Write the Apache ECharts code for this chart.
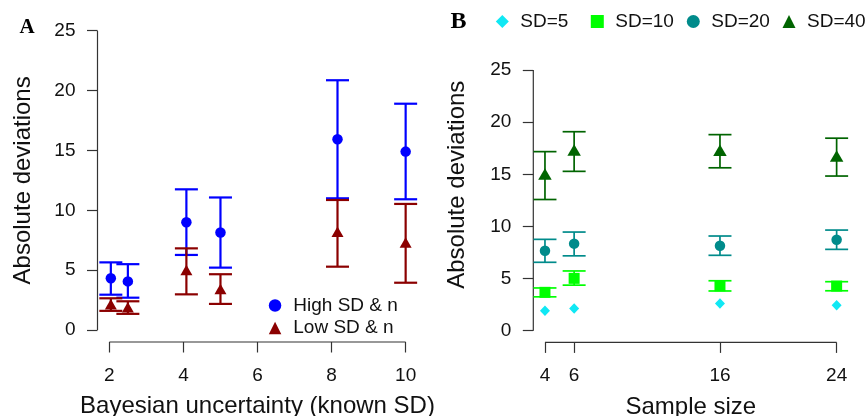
<!DOCTYPE html>
<html>
<head>
<meta charset="utf-8">
<script src="https://cdn.jsdelivr.net/npm/echarts@6/dist/echarts.min.js"></script>
<style>
  html, body { margin: 0; padding: 0; background: #fff; }
  #chart { width: 868px; height: 416px; }
</style>
</head>
<body>
<div id="chart"></div>
<script>
// ---- Panel A: deviations vs Bayesian uncertainty ----
const uncertainty = [2.04, 2.5, 4.08, 5, 8.16, 10];
const highMean  = [4.32, 4.06, 9.0, 8.15, 15.93, 14.9];
const highLower = [2.95, 2.7, 6.27, 5.21, 11.0, 10.92];
const highUpper = [5.65, 5.5, 11.75, 11.07, 20.86, 18.9];
const lowMean   = [2.15, 1.9, 5.01, 3.42, 8.21, 7.3];
const lowLower  = [1.6, 1.35, 2.98, 2.18, 5.29, 3.95];
const lowUpper  = [2.65, 2.4, 6.82, 4.66, 10.86, 10.53];
const xTicksA = [2, 4, 6, 8, 10];
const yTicks = [0, 5, 10, 15, 20, 25];

// ---- Panel B: deviations vs sample size, by SD ----
const sampleSize = [4, 6, 16, 24];
const sd5Mean   = [1.92, 2.12, 2.6, 2.45];
const sd10Mean  = [3.68, 5.02, 4.3, 4.28];
const sd10Lower = [3.25, 4.37, 3.81, 3.83];
const sd10Upper = [4.1, 5.73, 4.79, 4.7];
const sd20Mean  = [7.67, 8.35, 8.14, 8.73];
const sd20Lower = [6.56, 7.18, 7.23, 7.8];
const sd20Upper = [8.76, 9.46, 9.08, 9.65];
const sd40Mean  = [15.02, 17.33, 17.3, 16.75];
const sd40Lower = [12.58, 15.28, 15.62, 14.83];
const sd40Upper = [17.17, 19.08, 18.8, 18.46];
const xTicksB = [4, 6, 16, 24];
const sdNames = ['SD=5', 'SD=10', 'SD=20', 'SD=40'];
const sdIcons = ['diamond', 'rect', 'circle', 'triangle'];

// plot-region limits (range padded by 4% on each side)
const xLimA = [1.68, 10.32], yLimA = [-1, 26];
const xLimB = [3.2, 24.8],   yLimB = [-1.12, 29.12];

const FONT = 'Liberation Sans, Arial, sans-serif';
const INK = '#111';
const AXIS = '#333';
const CAP = 11.5;

const zip2 = (xs, ys) => xs.map((x, i) => [x, ys[i]]);
const zip3 = (xs, a, b) => xs.map((x, i) => [x, a[i], b[i]]);

function errorBars(color, width) {
  return function (params, api) {
    const x = api.value(0);
    const a = api.coord([x, api.value(1)]);
    const b = api.coord([x, api.value(2)]);
    const style = { stroke: color, lineWidth: width, fill: null };
    return {
      type: 'group',
      children: [
        { type: 'line', shape: { x1: a[0], y1: a[1], x2: b[0], y2: b[1] }, style },
        { type: 'line', shape: { x1: a[0] - CAP, y1: a[1], x2: a[0] + CAP, y2: a[1] }, style },
        { type: 'line', shape: { x1: b[0] - CAP, y1: b[1], x2: b[0] + CAP, y2: b[1] }, style }
      ]
    };
  };
}

// axis lines that run only from the first to the last tick
function axisFrame(xLim, yLim, xTicks, yTs) {
  return function (params, api) {
    const x0 = api.coord([xTicks[0], yLim[0]]);
    const x1 = api.coord([xTicks[xTicks.length - 1], yLim[0]]);
    const y0 = api.coord([xLim[0], yTs[0]]);
    const y1 = api.coord([xLim[0], yTs[yTs.length - 1]]);
    const style = { stroke: AXIS, lineWidth: 1.2, fill: null };
    return {
      type: 'group',
      children: [
        { type: 'line', shape: { x1: x0[0], y1: x0[1], x2: x1[0], y2: x1[1] }, style },
        { type: 'line', shape: { x1: y0[0], y1: y0[1], x2: y1[0], y2: y1[1] }, style }
      ]
    };
  };
}

function xAxisDef(gridIndex, lim, ticks, name) {
  return {
    type: 'value', gridIndex, min: lim[0], max: lim[1],
    axisLine: { show: false, onZero: false },
    axisTick: { show: true, length: 10.5, customValues: ticks, lineStyle: { color: AXIS, width: 1.2 } },
    axisLabel: { customValues: ticks, margin: 24, fontSize: 19, fontFamily: FONT, color: INK },
    splitLine: { show: false },
    name, nameLocation: 'middle', nameGap: 52.5,
    nameTextStyle: { fontSize: 24, fontFamily: FONT, color: INK }
  };
}

function yAxisDef(gridIndex, lim, gap) {
  return {
    type: 'value', gridIndex, min: lim[0], max: lim[1],
    axisLine: { show: false, onZero: false },
    axisTick: { show: true, length: 10.5, customValues: yTicks, lineStyle: { color: AXIS, width: 1.2 } },
    axisLabel: { customValues: yTicks, margin: 22, fontSize: 19, fontFamily: FONT, color: INK },
    splitLine: { show: false },
    name: 'Absolute deviations', nameLocation: 'middle', nameGap: gap,
    nameTextStyle: { fontSize: 24, fontFamily: FONT, color: INK }
  };
}

// panel B legend: one evenly spaced entry per SD level
const legendBLeft = [495.8, 590.8, 686.8, 782.5];
const legendB = sdNames.map((name, i) => ({
  orient: 'horizontal', left: legendBLeft[i], top: 12, padding: 0,
  itemWidth: 13, itemHeight: 13, selectedMode: false,
  textStyle: { fontSize: 19, fontFamily: FONT, color: INK, padding: [0, 0, 0, 6.5] },
  data: [{ name, icon: sdIcons[i] }]
}));

const option = {
  animation: false,
  backgroundColor: '#fff',
  title: [
    { text: 'A', left: 19.5, top: 17, padding: 0,
      textStyle: { fontFamily: 'Liberation Serif, Times New Roman, serif', fontWeight: 'bold', fontSize: 21, color: '#000' } },
    { text: 'B', left: 450.5, top: 10, padding: 0,
      textStyle: { fontFamily: 'Liberation Serif, Times New Roman, serif', fontWeight: 'bold', fontSize: 24, color: '#000' } }
  ],
  legend: [
    {
      orient: 'vertical', left: 268.8, top: 296, padding: 0,
      itemWidth: 12.5, itemHeight: 12.5, itemGap: 3.6, selectedMode: false,
      textStyle: { fontSize: 19, fontFamily: FONT, color: INK, lineHeight: 19, padding: [0, 0, 0, 7] },
      data: [
        { name: 'High SD & n', icon: 'circle' },
        { name: 'Low SD & n', icon: 'triangle' }
      ]
    }
  ].concat(legendB),
  grid: [
    { left: 97.5, top: 18.7, width: 320, height: 323.3, outerBoundsMode: 'none' },
    { left: 533.3, top: 27, width: 315, height: 315.4, outerBoundsMode: 'none' }
  ],
  xAxis: [
    xAxisDef(0, xLimA, xTicksA, 'Bayesian uncertainty (known SD)'),
    xAxisDef(1, xLimB, xTicksB, 'Sample size')
  ],
  yAxis: [
    yAxisDef(0, yLimA, 62),
    yAxisDef(1, yLimB, 63.5)
  ],
  series: [
    // panel A
    { type: 'custom', name: 'frameA', xAxisIndex: 0, yAxisIndex: 0, silent: true, clip: false,
      data: [[xLimA[0], yLimA[0]]], renderItem: axisFrame(xLimA, yLimA, xTicksA, yTicks), z: 1 },
    { type: 'custom', name: 'errHigh', xAxisIndex: 0, yAxisIndex: 0, silent: true,
      encode: { x: 0, y: [1, 2] }, data: zip3(uncertainty, highLower, highUpper),
      renderItem: errorBars('#0000ff', 2.2), z: 2 },
    { type: 'custom', name: 'errLow', xAxisIndex: 0, yAxisIndex: 0, silent: true,
      encode: { x: 0, y: [1, 2] }, data: zip3(uncertainty, lowLower, lowUpper),
      renderItem: errorBars('#8b0000', 2.2), z: 2 },
    { type: 'scatter', name: 'High SD & n', xAxisIndex: 0, yAxisIndex: 0,
      symbol: 'circle', symbolSize: 10.5, itemStyle: { color: '#0000ff', opacity: 1 },
      data: zip2(uncertainty, highMean), z: 3 },
    { type: 'scatter', name: 'Low SD & n', xAxisIndex: 0, yAxisIndex: 0,
      symbol: 'triangle', symbolSize: [12, 10.5], itemStyle: { color: '#8b0000', opacity: 1 },
      data: zip2(uncertainty, lowMean), z: 3 },

    // panel B
    { type: 'custom', name: 'frameB', xAxisIndex: 1, yAxisIndex: 1, silent: true, clip: false,
      data: [[xLimB[0], yLimB[0]]], renderItem: axisFrame(xLimB, yLimB, xTicksB, yTicks), z: 1 },
    { type: 'custom', name: 'err10', xAxisIndex: 1, yAxisIndex: 1, silent: true,
      encode: { x: 0, y: [1, 2] }, data: zip3(sampleSize, sd10Lower, sd10Upper),
      renderItem: errorBars('#00ff00', 1.7), z: 2 },
    { type: 'custom', name: 'err20', xAxisIndex: 1, yAxisIndex: 1, silent: true,
      encode: { x: 0, y: [1, 2] }, data: zip3(sampleSize, sd20Lower, sd20Upper),
      renderItem: errorBars('#008b8b', 1.7), z: 2 },
    { type: 'custom', name: 'err40', xAxisIndex: 1, yAxisIndex: 1, silent: true,
      encode: { x: 0, y: [1, 2] }, data: zip3(sampleSize, sd40Lower, sd40Upper),
      renderItem: errorBars('#006400', 1.7), z: 2 },
    { type: 'scatter', name: sdNames[0], xAxisIndex: 1, yAxisIndex: 1,
      symbol: 'diamond', symbolSize: [10, 10.5], itemStyle: { color: '#10e8f4', opacity: 1 },
      data: zip2(sampleSize, sd5Mean), z: 3 },
    { type: 'scatter', name: sdNames[1], xAxisIndex: 1, yAxisIndex: 1,
      symbol: 'rect', symbolSize: 11, itemStyle: { color: '#00ff00', opacity: 1 },
      data: zip2(sampleSize, sd10Mean), z: 3 },
    { type: 'scatter', name: sdNames[2], xAxisIndex: 1, yAxisIndex: 1,
      symbol: 'circle', symbolSize: 10.5, itemStyle: { color: '#008b8b', opacity: 1 },
      data: zip2(sampleSize, sd20Mean), z: 3 },
    { type: 'scatter', name: sdNames[3], xAxisIndex: 1, yAxisIndex: 1,
      symbol: 'triangle', symbolSize: [13.5, 11.5], itemStyle: { color: '#006400', opacity: 1 },
      data: zip2(sampleSize, sd40Mean), z: 3 }
  ]
};

const chart = echarts.init(document.getElementById('chart'), null, { renderer: 'canvas' });
chart.setOption(option);
</script>
</body>
</html>
